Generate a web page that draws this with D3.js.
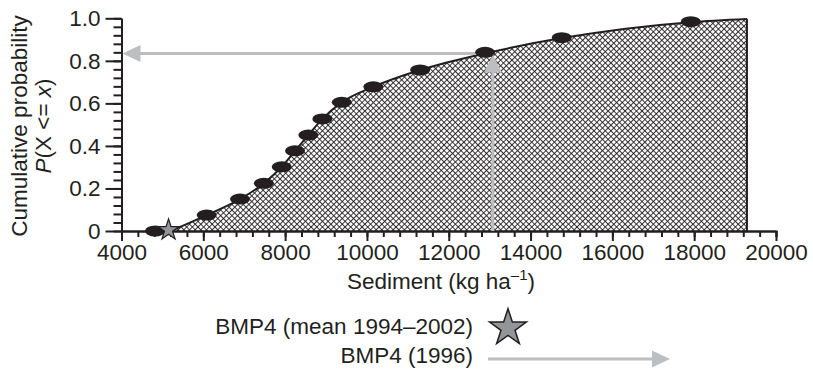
<!DOCTYPE html>
<html>
<head>
<meta charset="utf-8">
<script src="https://cdn.jsdelivr.net/npm/d3@7"></script>
<style>
  body { margin: 0; background: #fff; }
  svg { font-family: "Liberation Sans", Arial, sans-serif; }
</style>
</head>
<body>
<div id="chart"></div>
<script>
var sedimentObs = [4820, 6083, 6897, 7480, 7917, 8242, 8567, 8910, 9384, 10156, 11300, 12888, 14763, 17917];
var probObs = [0, 0.075, 0.150, 0.224, 0.302, 0.377, 0.451, 0.527, 0.605, 0.678, 0.757, 0.840, 0.909, 0.984];

// fitted cumulative curve
var curveSediment = [5200, 6083, 6897, 7480, 7917, 8242, 8567, 8910, 9384, 10156, 11300, 12888, 14763, 17917, 19290];
var curveProb = [0, 0.075, 0.150, 0.224, 0.302, 0.377, 0.451, 0.527, 0.605, 0.678, 0.757, 0.835, 0.907, 0.982, 0.997];

var meanSediment = 5150;       // BMP4 mean 1994-2002
var year1996 = {sediment: 13080, prob: 0.834};

var xTicks = [4000, 6000, 8000, 10000, 12000, 14000, 16000, 18000, 20000];
var yTicks = [0, 0.2, 0.4, 0.6, 0.8, 1.0];
var legendLabels = ["BMP4 (mean 1994\u20132002)", "BMP4 (1996)"];

var ink = "#231f20", grey = "#bcbec0";
var fontSize = "22.5px";

var svg = d3.select("#chart").append("svg")
    .attr("width", 813)
    .attr("height", 370);

var x = d3.scaleLinear().domain([4000, 20000]).range([121.5, 776]);
var y = d3.scaleLinear().domain([0, 1]).range([231, 18.3]);

// crosshatch pattern
var pat = svg.append("defs").append("pattern")
    .attr("id", "hatch")
    .attr("patternUnits", "userSpaceOnUse")
    .attr("width", 4).attr("height", 4)
    .attr("patternTransform", "rotate(45)");
pat.append("rect").attr("width", 4).attr("height", 4).attr("fill", "#fff");
pat.append("line").attr("x1", 0).attr("y1", 0).attr("x2", 4).attr("y2", 0)
    .attr("stroke", ink).attr("stroke-width", 1.8);
pat.append("line").attr("x1", 0).attr("y1", 0).attr("x2", 0).attr("y2", 4)
    .attr("stroke", ink).attr("stroke-width", 1.8);

var curveData = curveSediment.map(function(d, i) { return [d, curveProb[i]]; });

var area = d3.area()
    .x(function(d) { return x(d[0]); })
    .y0(y(0))
    .y1(function(d) { return y(d[1]); })
    .curve(d3.curveMonotoneX);

svg.append("path")
    .datum(curveData)
    .attr("d", area)
    .attr("fill", "url(#hatch)");

var line = d3.line()
    .x(function(d) { return x(d[0]); })
    .y(function(d) { return y(d[1]); })
    .curve(d3.curveMonotoneX);

svg.append("path")
    .datum(curveData)
    .attr("d", line)
    .attr("fill", "none")
    .attr("stroke", ink)
    .attr("stroke-width", 2);

// right edge of the area
var last = curveData[curveData.length - 1];
svg.append("line")
    .attr("x1", x(last[0])).attr("x2", x(last[0]))
    .attr("y1", y(0)).attr("y2", y(last[1]))
    .attr("stroke", ink).attr("stroke-width", 2);

// axes
function styleAxis(g) {
    g.select(".domain").attr("stroke", ink).attr("stroke-width", 2);
    g.selectAll(".tick line").attr("stroke", ink).attr("stroke-width", 2);
    g.selectAll("text").attr("fill", ink).style("font-size", fontSize);
}

svg.append("g")
    .attr("transform", "translate(0," + y(0) + ")")
    .call(d3.axisBottom(x).tickValues(d3.range(4000, 20001, 400)).tickSize(6).tickFormat(""))
    .call(styleAxis);

svg.append("g")
    .attr("transform", "translate(0," + y(0) + ")")
    .call(d3.axisBottom(x).tickValues(xTicks).tickSize(10).tickSizeOuter(0).tickPadding(3).tickFormat(d3.format("d")))
    .call(styleAxis);

svg.append("g")
    .attr("transform", "translate(" + x(4000) + ",0)")
    .call(d3.axisLeft(y).tickValues(d3.range(0, 1.001, 0.04)).tickSize(8).tickSizeOuter(0).tickFormat(""))
    .call(styleAxis);

svg.append("g")
    .attr("transform", "translate(" + x(4000) + ",0)")
    .call(d3.axisLeft(y).tickValues(yTicks).tickSize(16).tickSizeOuter(0).tickPadding(5)
        .tickFormat(function(d) { return d === 0 ? "0" : d3.format(".1f")(d); }))
    .call(styleAxis);

// 1996 arrow: up from the axis then left to the probability axis
svg.append("path")
    .attr("d", "M" + x(year1996.sediment) + "," + y(0) +
        "V" + (y(year1996.prob) + 16))
    .attr("stroke", grey).attr("stroke-width", 3).attr("fill", "none");
svg.append("path")
    .attr("d", "M" + x(year1996.sediment) + "," + (y(year1996.prob) + 1) +
        "l-9,18h18z")
    .attr("fill", grey);
svg.append("path")
    .attr("d", "M" + x(year1996.sediment) + "," + y(year1996.prob) +
        "H" + (x(4000) + 16))
    .attr("stroke", grey).attr("stroke-width", 3).attr("fill", "none");
svg.append("path")
    .attr("d", "M" + (x(4000) + 1) + "," + y(year1996.prob) + "l18,-8.5v17z")
    .attr("fill", grey);

// observation points
svg.selectAll("ellipse.obs")
    .data(sedimentObs)
    .enter()
    .append("ellipse")
    .attr("class", "obs")
    .attr("cx", function(d) { return x(d); })
    .attr("cy", function(d, i) { return y(probObs[i]); })
    .attr("rx", 10)
    .attr("ry", 5.5)
    .attr("fill", ink);

// mean star
var star = d3.symbol().type(d3.symbolStar);
svg.append("path")
    .attr("d", star.size(140)())
    .attr("transform", "translate(" + x(meanSediment) + "," + (y(0) - 1) + ")")
    .attr("fill", "#939598").attr("stroke", ink).attr("stroke-width", 1.2);

// axis titles
var xt = svg.append("text")
    .attr("x", 347).attr("y", 289)
    .attr("fill", ink).style("font-size", fontSize);
xt.append("tspan").text("Sediment (kg ha");
xt.append("tspan").attr("dy", -9).style("font-size", "15px").text("\u20131");
xt.append("tspan").attr("dy", 9).text(")");

var yt = svg.append("text")
    .attr("transform", "translate(27,126) rotate(-90)")
    .attr("text-anchor", "middle")
    .attr("fill", ink).style("font-size", fontSize);
yt.append("tspan").attr("x", 0).attr("y", 0).text("Cumulative probability");
var l2 = yt.append("tspan").attr("x", 0).attr("y", 24);
l2.append("tspan").style("font-style", "italic").text("P");
l2.append("tspan").text("(X <= ");
l2.append("tspan").style("font-style", "italic").text("x");
l2.append("tspan").text(")");

// legend
var legendY = [334, 363];
svg.selectAll("text.leg")
    .data(legendLabels)
    .enter()
    .append("text")
    .attr("class", "leg")
    .attr("x", 473)
    .attr("y", function(d, i) { return legendY[i]; })
    .attr("text-anchor", "end")
    .attr("fill", ink)
    .style("font-size", fontSize)
    .text(function(d) { return d; });

svg.append("path")
    .attr("d", star.size(420)())
    .attr("transform", "translate(508,328)")
    .attr("fill", "#939598").attr("stroke", ink).attr("stroke-width", 1.5);

svg.append("line")
    .attr("x1", 488).attr("x2", 654)
    .attr("y1", 359).attr("y2", 359)
    .attr("stroke", grey).attr("stroke-width", 3);
svg.append("path")
    .attr("d", "M670,359l-18,-8.5v17z")
    .attr("fill", grey);
</script>
</body>
</html>
